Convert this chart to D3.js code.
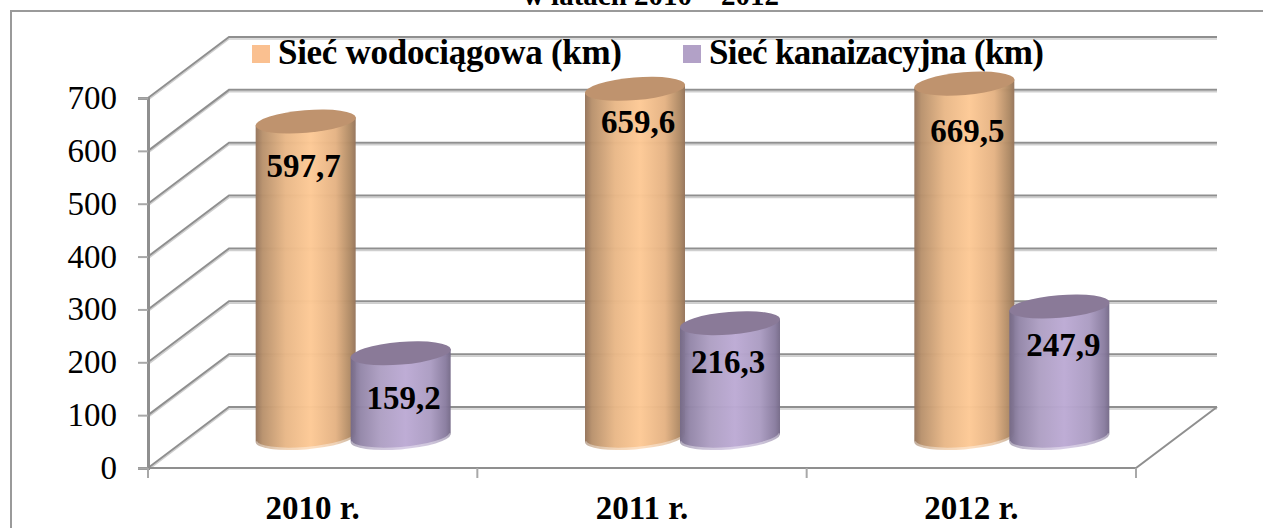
<!DOCTYPE html>
<html>
<head>
<meta charset="utf-8">
<script src="https://cdn.jsdelivr.net/npm/d3@7"></script>
<style>
  html, body { margin: 0; padding: 0; background: #fff; overflow: hidden; }
  svg { display: block; font-family: "Liberation Serif", serif; }
</style>
</head>
<body>
<script>
const years = ['2010 r.', '2011 r.', '2012 r.'];
const seriesNames = ['Sieć wodociągowa (km)', 'Sieć kanaizacyjna (km)'];
const water = [597.7, 659.6, 669.5];
const sewer = [159.2, 216.3, 247.9];
const yTicks = [0, 100, 200, 300, 400, 500, 600, 700];

// hand-moved data labels in the original, [dx, dy] from the top of each cylinder
const waterNudge = [[-2, 55], [3, 44], [3, 58]];
const sewerNudge = [[3, 56], [-2, 50], [4, 50]];

const width = 1263;
const height = 528;

// 3d box: how far the back wall is shifted from the front
const depthX = 81;
const depthY = -61;

const y = d3.scaleLinear().domain([0, 700]).range([468, 98]);
const x = d3.scaleBand().domain(years).range([148, 1136]);
const inner = d3.scaleBand().domain([0, 1]).range([-95, 95]);

const svg = d3.select('body').append('svg')
  .attr('width', width)
  .attr('height', height);

const defs = svg.append('defs');

function addGradient(id, stops) {
  defs.append('linearGradient')
    .attr('id', id)
    .selectAll('stop')
    .data(stops)
    .join('stop')
    .attr('offset', d => d[0])
    .attr('stop-color', d => d[1]);
}

addGradient('orange', [[0, '#94735a'], [0.07, '#b8916c'], [0.3, '#e8b787'], [0.55, '#fdc995'], [0.8, '#e4b283'], [0.95, '#ad8863'], [1, '#94735a']]);
addGradient('purple', [[0, '#756a88'], [0.1, '#9386a8'], [0.3, '#ae9fc3'], [0.55, '#bcaad4'], [0.8, '#ab9cc2'], [0.95, '#897c9f'], [1, '#756a88']]);

// outer frame, cut off by the picture on the right and bottom
svg.append('path')
  .attr('d', `M11,${height}V11H${width}`)
  .attr('fill', 'none')
  .attr('stroke', '#9a9a9a')
  .attr('stroke-width', 2);

svg.append('text')
  .attr('x', 651)
  .attr('y', 5)
  .attr('text-anchor', 'middle')
  .attr('font-weight', 'bold')
  .attr('font-size', 29)
  .text('w latach 2010 – 2012');

const grid = svg.append('g')
  .attr('fill', 'none')
  .attr('stroke-linejoin', 'miter');

function gridPath(v) {
  return `M148,${y(v)}L${148 + depthX},${y(v) + depthY}H${1136 + depthX}`;
}

// soft shadow under the wall lines
grid.selectAll('.shadow')
  .data(yTicks)
  .join('path')
  .attr('class', 'shadow')
  .attr('d', gridPath)
  .attr('transform', 'translate(0,2)')
  .attr('stroke', '#cfcfcf')
  .attr('stroke-width', 1.5);

grid.selectAll('.wall')
  .data(yTicks)
  .join('path')
  .attr('class', 'wall')
  .attr('d', gridPath)
  .attr('stroke', '#8f8f8f')
  .attr('stroke-width', 2);

// floor, right side and front edge
grid.append('path')
  .attr('d', `M148,${y(0)}H1136L${1136 + depthX},${y(0) + depthY}`)
  .attr('stroke', '#8f8f8f')
  .attr('stroke-width', 2);

const yAxis = svg.append('g')
  .attr('transform', 'translate(148,0)')
  .call(d3.axisLeft(y).tickValues(yTicks).tickSize(10).tickPadding(21).tickFormat(d3.format('d')));

yAxis.select('.domain')
  .attr('stroke', '#8f8f8f')
  .attr('stroke-width', 3);
yAxis.selectAll('.tick line')
  .attr('stroke', '#a8a8a8')
  .attr('stroke-width', 2);
yAxis.selectAll('.tick text')
  .attr('font-family', '"Liberation Serif", serif')
  .attr('font-size', 33)
  .attr('fill', '#000');

const xAxis = svg.append('g')
  .attr('transform', `translate(0,${y(0)})`)
  .call(d3.axisBottom(x).tickSize(0).tickPadding(28));

xAxis.select('.domain').remove();
xAxis.selectAll('.tick text')
  .attr('font-family', '"Liberation Serif", serif')
  .attr('font-size', 33)
  .attr('font-weight', 'bold')
  .attr('fill', '#000');

// tick marks sit on the band edges, not the centres
svg.append('g')
  .selectAll('line')
  .data([...years.map(d => x(d)), x.range()[1]])
  .join('line')
  .attr('x1', d => d)
  .attr('x2', d => d)
  .attr('y1', y(0))
  .attr('y2', y(0) + 10)
  .attr('stroke', '#a8a8a8')
  .attr('stroke-width', 2);

// cylinders stand half way into the depth of the floor
const rx = 50.2;
const ry = 11.3;
const tilt = -4.8;
const edgeX = 50;
const edgeY = 4;

function cylinderData(values, nudge, series) {
  return values.map((v, i) => ({
    value: v,
    series,
    nudge: nudge[i],
    cx: x(years[i]) + x.bandwidth() / 2 + inner(series) + inner.bandwidth() / 2 + depthX / 2,
    top: y(v) + depthY / 2,
    base: y(0) + depthY / 2 + 1
  }));
}

function bottomArc(d) {
  return `M${d.cx - edgeX},${d.base + edgeY}
    A${rx},${ry} ${tilt} 0 0 ${d.cx + edgeX},${d.base - edgeY}`;
}

function drawSeries(values, nudge, series, gradient, lidColor) {
  const g = svg.append('g')
    .selectAll('g')
    .data(cylinderData(values, nudge, series))
    .join('g');

  g.append('path')
    .attr('d', d => `${bottomArc(d)}V${d.top - edgeY}L${d.cx - edgeX},${d.top + edgeY}Z`)
    .attr('fill', `url(#${gradient})`)
    .attr('fill-opacity', 0.97);

  // pale rim along the bottom edge
  g.append('path')
    .attr('d', bottomArc)
    .attr('fill', 'none')
    .attr('stroke', '#fff')
    .attr('stroke-opacity', 0.4)
    .attr('stroke-width', 3)
    .attr('transform', 'translate(0,-1)');

  g.append('ellipse')
    .attr('rx', rx)
    .attr('ry', ry)
    .attr('transform', d => `translate(${d.cx},${d.top}) rotate(${tilt})`)
    .attr('fill', lidColor);

  return g;
}

const waterBars = drawSeries(water, waterNudge, 0, 'orange', '#bf936e');
const sewerBars = drawSeries(sewer, sewerNudge, 1, 'purple', '#8a7a98');

[waterBars, sewerBars].forEach(g => {
  g.append('text')
    .attr('x', d => d.cx + d.nudge[0])
    .attr('y', d => d.top + d.nudge[1])
    .attr('text-anchor', 'middle')
    .attr('font-weight', 'bold')
    .attr('font-size', 33)
    .text(d => d3.format('.1f')(d.value).replace('.', ','));
});

// legend
const legendItems = [
  { name: seriesNames[0], swatch: 252, textX: 278, textWidth: 344, color: '#fac090' },
  { name: seriesNames[1], swatch: 683, textX: 709, textWidth: 335, color: '#b2a1c7' }
];

const legend = svg.append('g')
  .selectAll('g')
  .data(legendItems)
  .join('g');

legend.append('rect')
  .attr('x', d => d.swatch)
  .attr('y', 45)
  .attr('width', 18)
  .attr('height', 18)
  .attr('fill', d => d.color);

legend.append('text')
  .attr('x', d => d.textX)
  .attr('y', 64)
  .attr('font-weight', 'bold')
  .attr('font-size', 35)
  .attr('textLength', d => d.textWidth)
  .text(d => d.name);
</script>
</body>
</html>
